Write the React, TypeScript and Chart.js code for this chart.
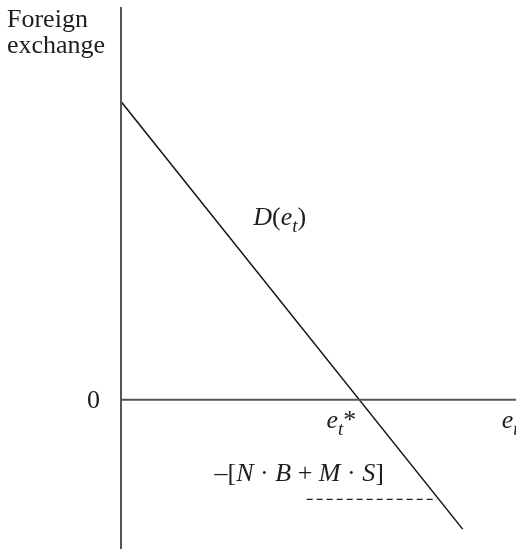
import React, { useEffect, useRef } from "react";
import { Chart, registerables } from "chart.js";

Chart.register(...registerables);

// Conceptual diagram values (axis units)
const demandX = [0, 8.65];
const demandY = [6, -2.6];
const floorLevel = -2;
const floorX = [4.7, 8];
const xRange = [0, 10];
const yRange = [-3, 7.9];

const FONT = '"Liberation Serif", "Times New Roman", serif';
const INK = "#1e1e1e";
const AXIS = "#555555";
const SIZE = 26;

type Seg = { t: string; it?: boolean; sub?: boolean };

function drawRich(ctx: CanvasRenderingContext2D, x: number, y: number, segs: Seg[], size = SIZE) {
  let cx = x;
  for (const s of segs) {
    const sz = s.sub ? Math.round(size * 0.72) : size;
    ctx.font = `${s.it ? "italic " : ""}${sz}px ${FONT}`;
    const dy = s.sub ? size * 0.28 : 0;
    ctx.fillText(s.t, cx, y + dy);
    cx += ctx.measureText(s.t).width;
  }
}

const labelsPlugin = {
  id: "diagramLabels",
  afterDatasetsDraw(chart: any) {
    const { ctx, scales, chartArea } = chart;
    const xs = scales.x;
    const ys = scales.y;
    ctx.save();
    ctx.fillStyle = INK;
    ctx.textBaseline = "alphabetic";
    ctx.textAlign = "left";
    // Axis title
    ctx.font = `${SIZE}px ${FONT}`;
    ctx.fillText("Foreign", 7, 27);
    ctx.fillText("exchange", 7, 53);
    // zero tick label
    ctx.textAlign = "right";
    ctx.fillText("0", chartArea.left - 21, ys.getPixelForValue(0) + 8);
    ctx.textAlign = "left";
    // D(e_t)
    drawRich(ctx, xs.getPixelForValue(3.35), ys.getPixelForValue(3.52), [
      { t: "D", it: true },
      { t: "(" },
      { t: "e", it: true },
      { t: "t", it: true, sub: true },
      { t: ")" },
    ]);
    // e_t*
    drawRich(ctx, xs.getPixelForValue(5.2), ys.getPixelForValue(0) + 28, [
      { t: "e", it: true },
      { t: "t", it: true, sub: true },
      { t: "*" },
    ]);
    // e_t at axis end
    drawRich(ctx, xs.getPixelForValue(9.64), ys.getPixelForValue(0) + 28, [
      { t: "e", it: true },
      { t: "t", it: true, sub: true },
    ]);
    // −[N · B + M · S]
    drawRich(ctx, xs.getPixelForValue(2.37), ys.getPixelForValue(-1.63), [
      { t: "\u2013[" },
      { t: "N", it: true },
      { t: " \u00b7 " },
      { t: "B", it: true },
      { t: " + " },
      { t: "M", it: true },
      { t: " \u00b7 " },
      { t: "S", it: true },
      { t: "]" },
    ]);
    ctx.restore();
  },
};

export default function App() {
  const ref = useRef<HTMLCanvasElement | null>(null);
  useEffect(() => {
    if (!ref.current) return;
    const chart = new Chart(ref.current, {
      type: "scatter",
      data: {
        datasets: [
          {
            label: "y axis",
            data: [
              { x: 0, y: yRange[0] },
              { x: 0, y: yRange[1] },
            ],
            showLine: true,
            borderColor: AXIS,
            borderWidth: 2,
            pointRadius: 0,
            clip: false,
          },
          {
            label: "x axis",
            data: [
              { x: xRange[0], y: 0 },
              { x: xRange[1], y: 0 },
            ],
            showLine: true,
            borderColor: AXIS,
            borderWidth: 2,
            pointRadius: 0,
            clip: false,
          },
          {
            label: "D(e_t)",
            data: demandX.map((x, i) => ({ x, y: demandY[i] })),
            showLine: true,
            borderColor: "#111111",
            borderWidth: 1.5,
            pointRadius: 0,
            clip: false,
          },
          {
            label: "floor",
            data: floorX.map((x) => ({ x, y: floorLevel })),
            showLine: true,
            borderColor: "#222222",
            borderWidth: 1.2,
            borderDash: [6, 4],
            pointRadius: 0,
            clip: false,
          },
        ],
      },
      options: {
        responsive: false,
        animation: false,
        layout: { padding: { left: 121, right: 0, top: 7, bottom: 0 } },
        plugins: { legend: { display: false }, tooltip: { enabled: false } },
        scales: {
          x: { type: "linear", min: xRange[0], max: xRange[1], display: false },
          y: { type: "linear", min: yRange[0], max: yRange[1], display: false },
        },
      },
      plugins: [labelsPlugin],
    });
    return () => chart.destroy();
  }, []);
  return (
    <div style={{ position: "fixed", left: 0, top: 0, width: 516, height: 549, background: "#fff" }}>
      <canvas ref={ref} width={516} height={549} style={{ display: "block" }} />
    </div>
  );
}
